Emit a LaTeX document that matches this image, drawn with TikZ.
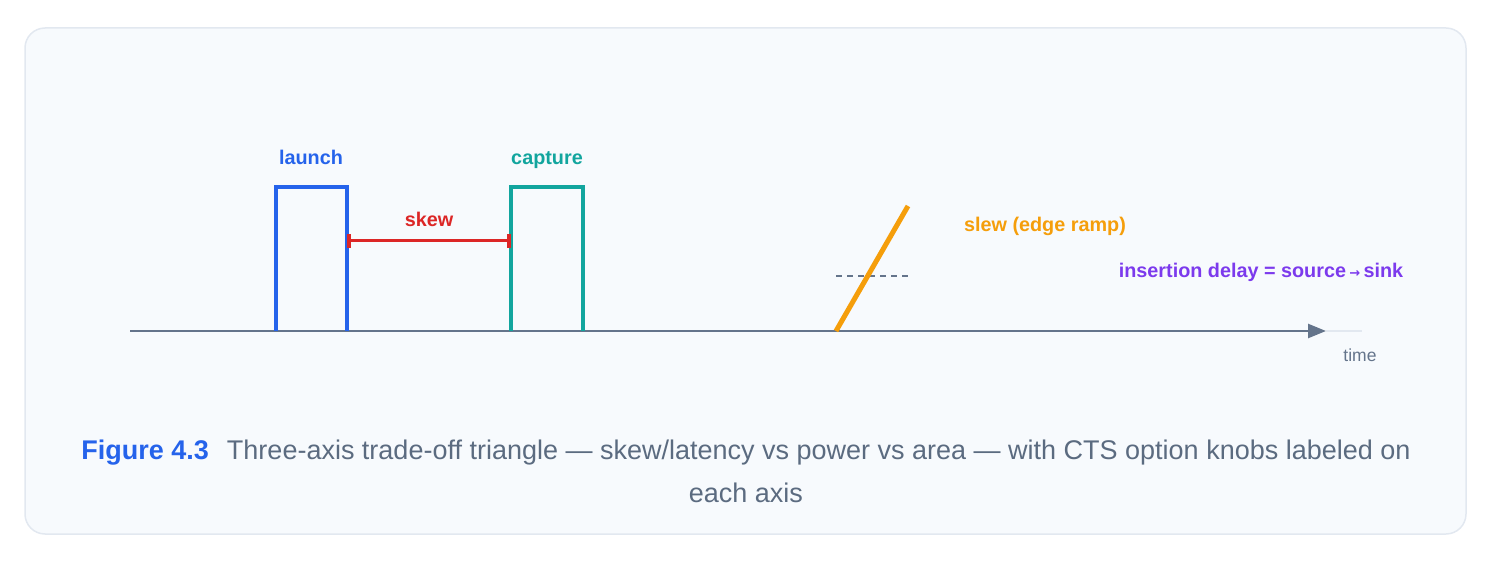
\documentclass[tikz,border=0pt]{standalone}
\usepackage{fontspec}
\setmainfont{Liberation Sans}
\newfontfamily\symfont{DejaVu Sans}
\usetikzlibrary{arrows.meta}
\definecolor{frameline}{HTML}{E2E8F0}
\definecolor{framefill}{HTML}{F7FAFD}
\definecolor{axisgray}{HTML}{64748B}
\definecolor{launchblue}{HTML}{2563EB}
\definecolor{captureteal}{HTML}{12A59E}
\definecolor{skewred}{HTML}{DC2626}
\definecolor{sleworange}{HTML}{F59E0B}
\definecolor{delaypurple}{HTML}{7C3AED}
\definecolor{captiongray}{HTML}{5B6B80}
\begin{document}
\begin{tikzpicture}[x=1pt,y=-1pt,
    lbl/.style={font=\fontsize{19.8}{24}\selectfont\bfseries,anchor=base},
    pulse/.style={line width=4.2pt}]
  \useasboundingbox (0,0) rectangle (1494,561);
  % frame
  \draw[frameline,fill=framefill,line width=1.5pt,rounded corners=20pt] (25,28) rectangle (1466,534);
  % time axis
  \coordinate (t0) at (130,331);
  \coordinate (t1) at (1326,331);
  \coordinate (t2) at (1362,331);
  \draw[frameline,line width=2.5pt] (t1) -- (t2);
  \draw[axisgray,line width=2.5pt,-{Triangle[length=18pt,width=14pt]}] (t0) -- (t1);
  \node[text=axisgray,font=\fontsize{17.5}{20}\selectfont] (time) at (1360,355) {time};
  % launch and capture pulses
  \draw[launchblue,pulse] (276,331) -- (276,187) -- (347,187) -- (347,331);
  \draw[captureteal,pulse] (511,331) -- (511,187) -- (583,187) -- (583,331);
  \node[lbl,text=launchblue] (launch) at (311,165) {launch};
  \node[lbl,text=captureteal] (capture) at (547,165) {capture};
  % skew
  \coordinate (s0) at (347,241);
  \coordinate (s1) at (511,241);
  \draw[skewred,line width=3pt,{Bar[width=14pt,line width=4pt]}-{Bar[width=14pt,line width=4pt]}] (s0) -- (s1);
  \node[lbl,text=skewred] (skew) at (429,227) {skew};
  % slew
  \coordinate (r0) at (836,331);
  \coordinate (r1) at (908,206);
  \draw[axisgray,line width=1.5pt,dash pattern=on 6pt off 5pt] (836,276) -- (908,276);
  \draw[sleworange,line width=5pt] (r0) -- (r1);
  \node[lbl,text=sleworange] (slew) at (1045,232) {slew (edge ramp)};
  \node[lbl,text=delaypurple] (delay) at (1261,278) {insertion delay = source\,{\symfont\fontsize{13}{13}\selectfont →}\,sink};
  % caption
  \node[align=center,text=captiongray,font=\fontsize{27}{43}\selectfont] (caption) at (746,471)
    {{\bfseries\color{launchblue}Figure 4.3}\hspace{18pt}Three-axis trade-off triangle — skew/latency vs power vs area — with CTS option knobs labeled on\\each axis};
\end{tikzpicture}
\end{document}
